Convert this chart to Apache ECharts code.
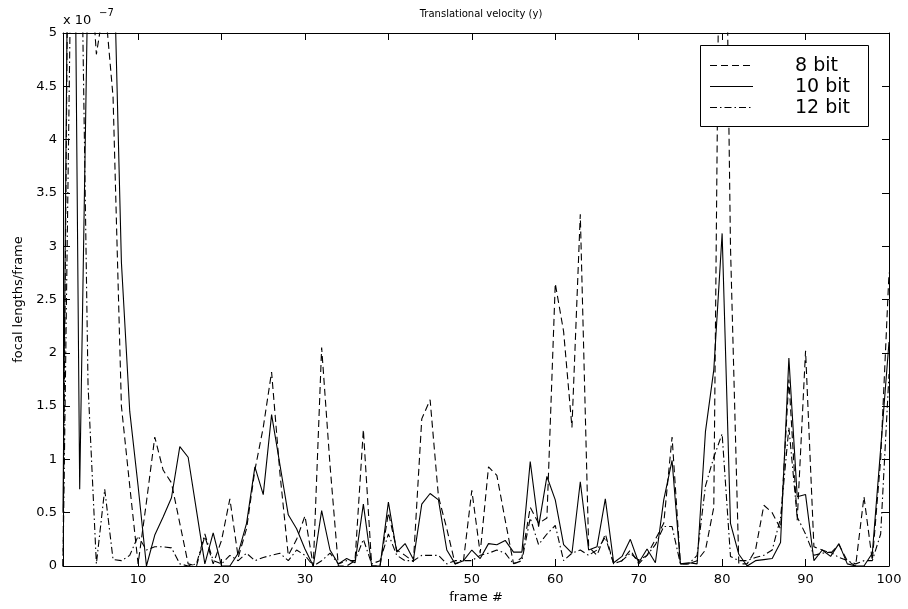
<!DOCTYPE html>
<html><head><meta charset="utf-8">
<script src="https://cdn.jsdelivr.net/npm/echarts@6/dist/echarts.min.js"></script>
<style>html,body{margin:0;padding:0;background:#fff}#c{width:908px;height:609px}</style>
</head><body><div id="c"></div>
<script>
const frames = [1,2,3,4,5,6,7,8,9,10,11,12,13,14,15,16,17,18,19,20,21,22,23,24,25,26,27,28,29,30,31,32,33,34,35,36,37,38,39,40,41,42,43,44,45,46,47,48,49,50,51,52,53,54,55,56,57,58,59,60,61,62,63,64,65,66,67,68,69,70,71,72,73,74,75,76,77,78,79,80,81,82,83,84,85,86,87,88,89,90,91,92,93,94,95,96,97,98,99,100];
// values in units of 1e-7 focal lengths/frame
const bit8 = [
0.0, 10, 7, 6, 4.8, 5.3, 4.4, 1.5, 0.75, 0.02,
0.6, 1.21, 0.9, 0.78, 0.4, 0.02, 0.0, 0.28, 0.02, 0.24,
0.63, 0.08, 0.35, 0.9, 1.3, 1.82, 0.87, 0.1, 0.25, 0.47,
0.0, 2.05, 0.95, 0.0, 0.0, 0.05, 1.28, 0.0, 0.0, 0.5,
0.15, 0.1, 0.04, 1.38, 1.56, 0.65, 0.35, 0.02, 0.05, 0.71,
0.12, 0.93, 0.85, 0.43, 0.02, 0.08, 0.55, 0.4, 0.45, 2.65,
2.2, 1.3, 3.3, 0.18, 0.1, 0.3, 0.02, 0.05, 0.15, 0.02,
0.1, 0.25, 0.4, 1.21, 0.02, 0.02, 0.05, 0.15, 0.55, 9,
3.0, 0.02, 0.02, 0.15, 0.57, 0.5, 0.35, 1.75, 0.43, 2.02,
0.18, 0.15, 0.12, 0.2, 0.05, 0.0, 0.65, 0.05, 1.0, 2.75];
const bit10 = [
0.5, 10, 0.72, 5.6, 6.5, 6.5, 6, 2.85, 1.45, 0.75,
0.0, 0.29, 0.46, 0.64, 1.12, 1.02, 0.52, 0.02, 0.31, 0.0,
0.0, 0.12, 0.4, 0.93, 0.67, 1.42, 0.95, 0.48, 0.35, 0.16,
0.0, 0.52, 0.15, 0.02, 0.07, 0.03, 0.58, 0.0, 0.0, 0.6,
0.13, 0.21, 0.06, 0.58, 0.68, 0.62, 0.15, 0.02, 0.05, 0.15,
0.07, 0.21, 0.2, 0.24, 0.13, 0.13, 0.98, 0.37, 0.84, 0.62,
0.2, 0.12, 0.79, 0.15, 0.18, 0.63, 0.03, 0.09, 0.25, 0.03,
0.16, 0.03, 0.62, 0.99, 0.02, 0.03, 0.02, 1.26, 1.84, 3.12,
0.4, 0.11, 0.0, 0.05, 0.06, 0.07, 0.22, 1.95, 0.65, 0.67,
0.05, 0.15, 0.09, 0.21, 0.02, 0.0, 0.0, 0.12, 1.1, 2.1];
const bit12 = [
0.0, 6, 7, 1.7, 0.02, 0.72, 0.06, 0.05, 0.1, 0.28,
0.15, 0.18, 0.18, 0.17, 0.02, 0.0, 0.02, 0.3, 0.05, 0.02,
0.1, 0.05, 0.12, 0.05, 0.08, 0.1, 0.12, 0.05, 0.15, 0.1,
0.0, 0.05, 0.12, 0.02, 0.05, 0.05, 0.25, 0.02, 0.05, 0.3,
0.1, 0.05, 0.05, 0.1, 0.1, 0.1, 0.02, 0.05, 0.05, 0.05,
0.1, 0.12, 0.15, 0.12, 0.02, 0.05, 0.45, 0.2, 0.3, 0.38,
0.05, 0.12, 0.15, 0.1, 0.15, 0.27, 0.02, 0.05, 0.12, 0.05,
0.1, 0.2, 0.37, 0.37, 0.02, 0.02, 0.1, 0.75, 1.02, 1.24,
0.09, 0.05, 0.05, 0.08, 0.1, 0.15, 0.45, 1.3, 0.46, 0.3,
0.1, 0.12, 0.13, 0.08, 0.05, 0.02, 0.05, 0.05, 0.3, 1.8];
const xTicks = [10,20,30,40,50,60,70,80,90,100];
const seriesNames = ['8 bit','10 bit','12 bit'];
const dashes = [[7,4], 'solid', [7,3,1.5,3]];

const FONT = 'DejaVu Sans';
const chart = echarts.init(document.getElementById('c'), null, {renderer:'canvas'});
const pairs = arr => frames.map((f,i)=>[f, arr[i]]);
const black = '#000';
const axisBase = {
  axisLine:{show:true, onZero:false, lineStyle:{color:black, width:1}},
  splitLine:{show:false}
};
const legendY = [65.5, 86.5, 107.5];
const legendGraphics = [
  {type:'rect', z:100, shape:{x:700.5, y:45.5, width:168, height:81}, style:{fill:'#fff', stroke:black, lineWidth:1}}
];
seriesNames.forEach((n,i)=>{
  legendGraphics.push({type:'line', z:101, shape:{x1:710, y1:legendY[i], x2:753, y2:legendY[i]},
    style:{stroke:black, lineWidth:1, lineDash: dashes[i]==='solid'? null : dashes[i]}});
  legendGraphics.push({type:'text', z:101, style:{x:795, y:legendY[i]+1, text:n, fill:black,
    font:'19px "DejaVu Sans"', verticalAlign:'middle'}});
});

chart.setOption({
  animation:false,
  backgroundColor:'#fff',
  title:{text:'Translational velocity (y)', left:476, top:4, textAlign:'center',
    textStyle:{fontSize:10, fontWeight:'normal', fontFamily:FONT, color:black}},
  grid:{left:63, top:33, right:19, bottom:43, containLabel:false},
  xAxis:[
    Object.assign({type:'value', min:1, max:100, position:'bottom',
      axisTick:{show:true, inside:true, length:7, customValues:xTicks, lineStyle:{color:black}},
      axisLabel:{customValues:xTicks, color:black, fontFamily:FONT, fontSize:13, margin:7},
      name:'frame #', nameLocation:'middle', nameGap:24,
      nameTextStyle:{fontFamily:FONT, fontSize:13, color:black}}, axisBase),
    Object.assign({type:'value', min:1, max:100, position:'top',
      axisTick:{show:true, inside:true, length:7, customValues:xTicks, lineStyle:{color:black}},
      axisLabel:{show:false}}, axisBase)
  ],
  yAxis:[
    Object.assign({type:'value', min:0, max:5, interval:0.5, position:'left',
      axisTick:{show:true, inside:true, length:7, lineStyle:{color:black}},
      axisLabel:{color:black, fontFamily:FONT, fontSize:13, margin:6},
      name:'focal lengths/frame', nameLocation:'middle', nameGap:37, nameRotate:90,
      nameTextStyle:{fontFamily:FONT, fontSize:13, color:black}}, axisBase),
    Object.assign({type:'value', min:0, max:5, interval:0.5, position:'right',
      axisTick:{show:true, inside:true, length:7, lineStyle:{color:black}},
      axisLabel:{show:false}}, axisBase)
  ],
  series:[bit8, bit10, bit12].map((arr,i)=>({
    name:seriesNames[i], type:'line', xAxisIndex:0, yAxisIndex:0, symbol:'none', clip:true,
    data:pairs(arr),
    lineStyle:{color:black, width:1.1, type:dashes[i]}
  })),
  graphic:[
    {type:'text', style:{x:63, y:21, text:'x 10', fill:black, font:'13px "DejaVu Sans"', verticalAlign:'middle'}},
    {type:'text', style:{x:99, y:13, text:'\u22127', fill:black, font:'10px "DejaVu Sans"', verticalAlign:'middle'}}
  ].concat(legendGraphics)
});
</script></body></html>
